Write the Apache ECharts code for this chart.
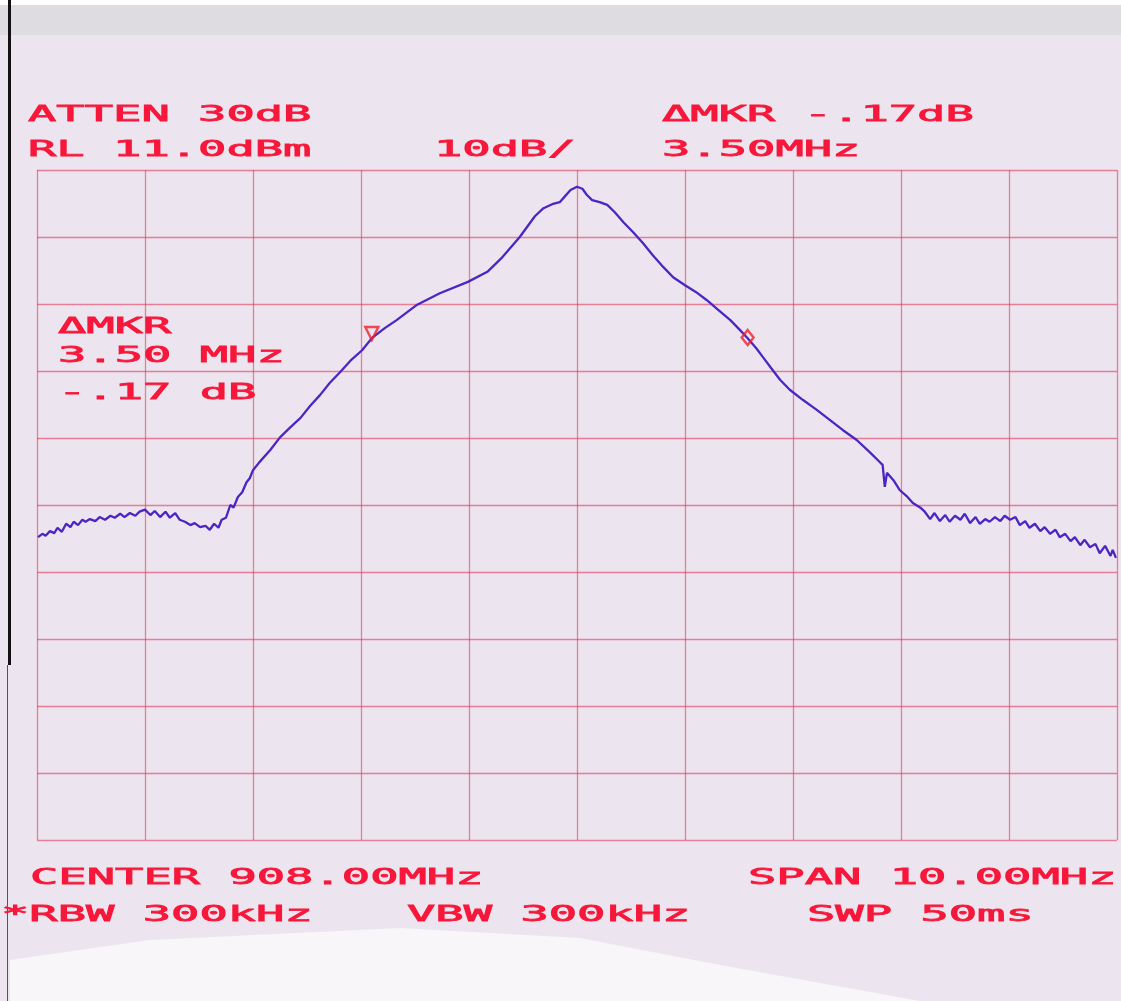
<!DOCTYPE html>
<html>
<head>
<meta charset="utf-8">
<script src="https://cdn.jsdelivr.net/npm/echarts@6/dist/echarts.min.js"></script>
<style>
html,body{margin:0;padding:0;background:#ece5ef;}
#chart{width:1121px;height:1001px;}
</style>
</head>
<body>
<div id="chart"></div>
<script>
// ---- data (frequency in MHz, level in dBm) ----
const freqMHz = [
903.01,903.05,903.08,903.12,903.16,903.19,903.23,903.27,903.31,903.34,903.38,903.42,903.45,903.49,903.54,903.58,903.63,903.68,903.72,903.77,903.81,903.86,903.91,903.95,
904.00,904.05,904.09,904.14,904.19,904.23,904.28,904.32,904.37,904.42,904.46,904.51,904.56,904.60,904.64,904.68,904.71,904.75,904.79,904.82,904.86,904.90,904.94,904.97,
905.00,905.06,905.16,905.25,905.34,905.44,905.53,905.62,905.71,905.81,905.90,906.01,906.10,906.22,906.33,906.52,906.73,906.99,907.17,907.31,907.47,907.61,907.69,907.77,907.84,907.89,907.94,
908.00,908.05,908.09,908.14,908.21,908.28,908.35,908.43,908.52,908.61,908.70,908.80,908.89,909.00,909.10,909.20,909.31,909.42,909.51,909.58,909.66,909.72,909.79,909.88,909.97,
910.09,910.22,910.34,910.46,910.59,910.71,910.81,910.83,910.85,910.87,910.93,910.99,911.06,911.11,911.18,911.22,911.27,911.31,911.36,911.41,911.45,911.50,911.55,911.59,911.64,911.69,911.73,911.78,911.82,911.87,911.92,911.96,
912.01,912.06,912.10,912.15,912.19,912.24,912.29,912.33,912.38,912.43,912.47,912.52,912.57,912.61,912.66,912.70,912.75,912.80,912.84,912.89,912.94,912.96,912.99
];
const levelDbm = [
-43.8,-43.3,-43.6,-42.9,-43.2,-42.4,-43.0,-41.8,-42.3,-41.5,-42.0,-41.2,-41.5,-41.1,-41.4,-40.8,-41.2,-40.6,-40.9,-40.3,-40.8,-40.2,-40.6,-40.0,
-39.7,-40.5,-39.9,-40.8,-40.0,-40.9,-40.2,-41.2,-41.5,-42.0,-41.7,-42.3,-42.1,-42.7,-41.8,-42.4,-41.2,-40.9,-39.0,-39.4,-37.8,-37.1,-35.6,-35.0,
-33.8,-32.6,-30.8,-28.9,-27.5,-26.0,-24.2,-22.6,-20.8,-19.1,-17.5,-15.9,-14.1,-12.6,-11.4,-9.1,-7.4,-5.7,-4.2,-2.0,1.0,4.1,5.3,5.9,6.2,7.1,8.0,
8.5,8.2,7.3,6.5,6.2,5.8,4.7,3.2,1.7,0.1,-1.7,-3.5,-5.0,-6.2,-7.2,-8.4,-9.9,-11.4,-12.9,-14.1,-15.6,-16.9,-18.4,-20.3,-21.8,
-23.3,-24.8,-26.3,-27.8,-29.3,-31.1,-32.7,-33.0,-36.3,-34.2,-35.3,-36.8,-37.8,-38.7,-39.4,-40.0,-41.1,-40.2,-41.4,-40.5,-41.5,-40.6,-41.2,-40.3,-41.7,-40.8,-41.8,-41.1,-41.5,-40.8,-41.4,-40.6,
-41.2,-40.8,-42.0,-41.4,-42.4,-41.8,-42.9,-42.3,-43.3,-42.7,-43.8,-43.3,-44.4,-43.8,-45.0,-44.2,-45.3,-44.8,-46.2,-45.1,-46.6,-45.7,-46.9
];
// marker readings
const markerRef = [906.10, -13.4];     // reference marker (open triangle)
const markerDelta = [909.58, -14.0];   // delta marker (diamond)
// axis settings
const centerMHz = 908.0, spanMHz = 10.0;
const refLevel = 11.0, dbPerDiv = 10, divisions = 10;
// annotation texts
const topTexts = ['ATTEN 30dB', 'RL 11.0dBm', '10dB/', '\u0394MKR -.17dB', '3.50MHz'];
const boxTexts = ['\u0394MKR', '3.50 MHz', '-.17 dB'];
const bottomTexts = ['CENTER 908.00MHz', 'SPAN 10.00MHz', '*RBW 300kHz', 'VBW 300kHz', 'SWP 50ms'];

const trace = freqMHz.map((f, i) => [f, levelDbm[i]]);

const RED = '#f7173a';
const GRID = 'rgba(228,42,78,0.55)';
function label(text, x, y) {
  return {
    type: 'text', x: x, y: y, scaleX: 2.14, z: 100,
    style: { text: text, fill: RED, stroke: RED, lineWidth: 0.8, font: '22px "DejaVu Sans Mono"', verticalAlign: 'middle', align: 'left' }
  };
}

const chart = echarts.init(document.getElementById('chart'), null, { renderer: 'canvas' });
chart.setOption({
  backgroundColor: '#ece5ef',
  animation: false,
  grid: { left: 37, top: 170, width: 1080, height: 670, containLabel: false },
  xAxis: {
    type: 'value', min: centerMHz - spanMHz / 2, max: centerMHz + spanMHz / 2, interval: spanMHz / divisions,
    axisLabel: { show: false }, axisTick: { show: false },
    axisLine: { show: false },
    splitLine: { show: true, lineStyle: { color: GRID, width: 1.3 } }
  },
  yAxis: [
    {
      type: 'value', min: 0, max: divisions, interval: 1,
      axisLabel: { show: false }, axisTick: { show: false }, axisLine: { show: false },
      splitLine: { show: true, lineStyle: { color: GRID, width: 1.3 } }
    },
    {
      type: 'value', min: refLevel - dbPerDiv * divisions, max: refLevel,
      show: false, splitLine: { show: false }
    }
  ],
  series: [
    {
      type: 'line', yAxisIndex: 1, data: trace, showSymbol: false, smooth: false,
      lineStyle: { color: '#4c25c2', width: 2.3 }, z: 5
    },
    {
      type: 'scatter', yAxisIndex: 1, data: [markerRef], symbol: 'triangle', symbolRotate: 180, symbolSize: 13,
      itemStyle: { color: 'rgba(0,0,0,0)', borderColor: '#f0202a', borderWidth: 2.4 }, z: 6
    },
    {
      type: 'scatter', yAxisIndex: 1, data: [markerDelta], symbol: 'diamond', symbolSize: [12, 15],
      itemStyle: { color: 'rgba(0,0,0,0)', borderColor: '#f0202a', borderWidth: 2.4 }, z: 6
    }
  ],
  graphic: [
    { type: 'rect', z: -10, shape: { x: 0, y: 0, width: 1121, height: 5 }, style: { fill: '#ffffff' } },
    { type: 'rect', z: -10, shape: { x: 0, y: 5, width: 1121, height: 30 }, style: { fill: '#dedbe1' } },
    { type: 'polygon', z: -10, shape: { points: [[10, 960], [150, 940], [400, 928], [580, 938], [720, 965], [920, 1001], [10, 1001]] }, style: { fill: '#f8f6f9' } },
    { type: 'rect', z: -9, shape: { x: 8, y: 0, width: 3, height: 665 }, style: { fill: '#111111' } },
    { type: 'rect', z: -9, shape: { x: 7, y: 665, width: 1, height: 336 }, style: { fill: '#555555' } },
    label(topTexts[0], 28, 115.5),
    label(topTexts[1], 28, 150.5),
    label(topTexts[2], 434, 150.5),
    label(topTexts[3], 662, 115),
    label(topTexts[4], 662, 150),
    label(boxTexts[0], 58, 327),
    label(boxTexts[1], 58, 356.5),
    label(boxTexts[2], 58, 393),
    label(bottomTexts[0], 30, 878.5),
    label(bottomTexts[1], 748, 878.5),
    label(bottomTexts[2], 1, 915.5),
    label(bottomTexts[3], 407, 915.5),
    label(bottomTexts[4], 807, 915.5)
  ]
});
</script>
</body>
</html>
